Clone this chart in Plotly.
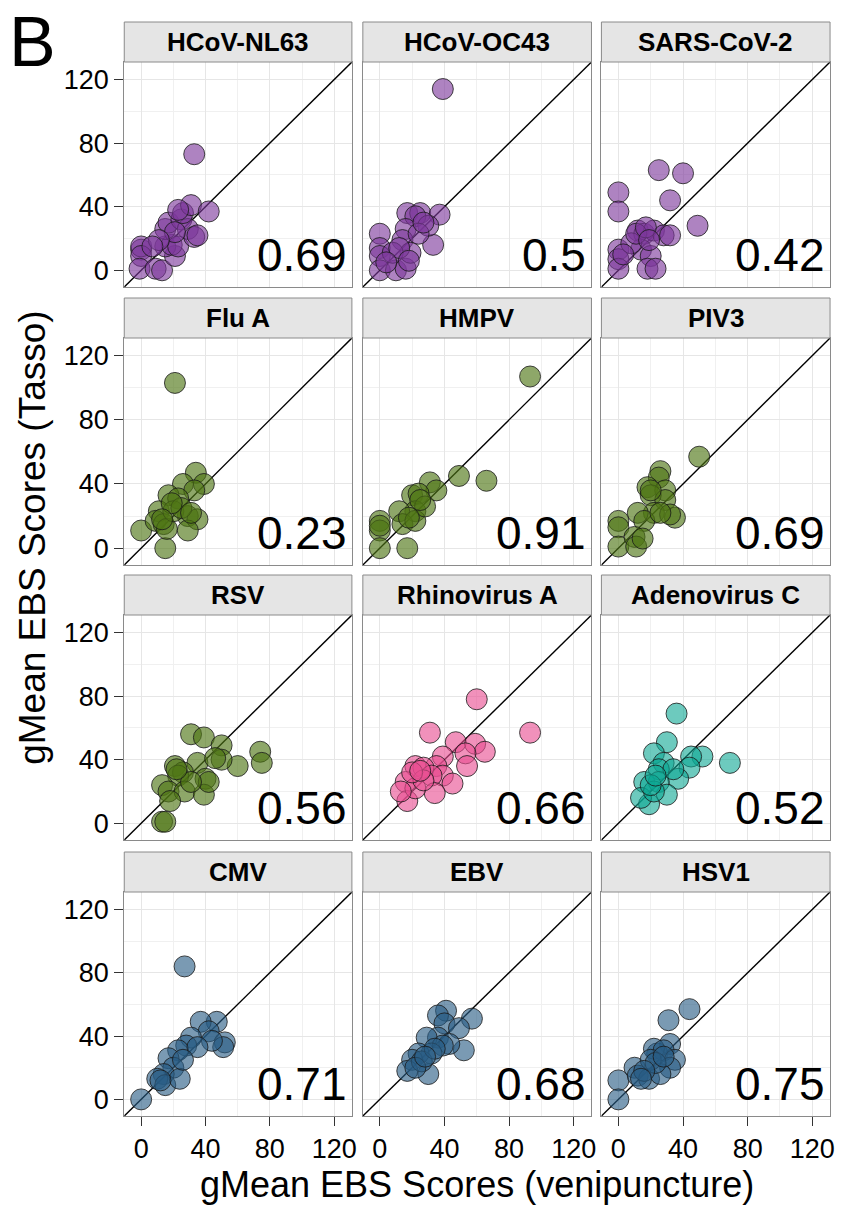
import plotly.graph_objects as go

# ---- data: gMean EBS scores, venipuncture (x) vs Tasso (y) ----
panel_names = ["HCoV-NL63", "HCoV-OC43", "SARS-CoV-2",
               "Flu A", "HMPV", "PIV3",
               "RSV", "Rhinovirus A", "Adenovirus C",
               "CMV", "EBV", "HSV1"]
corr_labels = ["0.69", "0.5", "0.42",
               "0.23", "0.91", "0.69",
               "0.56", "0.66", "0.52",
               "0.71", "0.68", "0.75"]

nl63_x = [0, 0, 0, -1, 9, 13, 21, 15, 19, 23, 15, 17, 25, 29, 33, 35, 21, 11, 7, 26, 31, 42, 23, 33]
nl63_y = [13, 15, 9, 1, 1, 0, 9, 15, 16, 15, 26, 30, 32, 26, 21, 22, 24, 19, 15, 36, 41, 37, 38, 73]

oc43_x = [39, 0, 0, 0, 0, 10, 16, 17, 25, 22, 37, 33, 30, 16, 14, 19, 8, 24, 27, 12, 4, 18]
oc43_y = [114, 23, 14, 9, 0, 0, 1, 36, 36, 34, 35, 16, 28, 26, 19, 11, 11, 23, 30, 14, 5, 6]

sars2_x = [25, 40, 32, 49, 0, 0, 0, 0, 0, 12, 16, 22, 28, 32, 14, 20, 18, 23, 8, 11, 17, 19, 3]
sars2_y = [63, 61, 44, 28, 49, 37, 13, 7, 1, 25, 23, 25, 22, 22, 13, 9, 1, 1, 17, 23, 27, 19, 10]

flua_x = [21, 0, 15, 34, 39, 26, 33, 17, 23, 11, 9, 14, 16, 29, 35, 29, 20, 25, 19, 13, 31]
flua_y = [103, 11, 0, 47, 40, 40, 36, 33, 31, 23, 17, 15, 12, 20, 18, 11, 23, 25, 28, 18, 22]

hmpv_x = [93, 49, 66, 31, 35, 20, 24, 22, 12, 14, 22, 0, 0, 0, 17, 28, 18, 25, 0]
hmpv_y = [107, 45, 42, 41, 36, 33, 34, 23, 23, 15, 17, 17, 11, 0, 0, 26, 19, 30, 14]

piv3_x = [50, 26, 25, 18, 29, 20, 29, 22, 12, 35, 16, 0, 0, 0, 10, 11, 32, 26, 20, 15]
piv3_y = [57, 48, 44, 38, 36, 33, 30, 22, 22, 19, 17, 17, 13, 1, 7, 1, 21, 22, 36, 6]

rsv_x = [31, 39, 50, 74, 75, 60, 50, 35, 21, 26, 40, 23, 13, 17, 27, 39, 18, 13, 15, 42, 31, 46, 22]
rsv_y = [56, 54, 49, 45, 38, 36, 40, 38, 36, 32, 28, 30, 24, 20, 20, 18, 14, 1, 1, 26, 26, 41, 34]

rhino_x = [60, 93, 31, 47, 59, 65, 53, 54, 39, 35, 22, 27, 39, 45, 32, 16, 17, 34, 22, 27, 20, 13, 25]
rhino_y = [78, 57, 57, 51, 50, 45, 44, 36, 42, 36, 36, 35, 30, 25, 30, 26, 14, 19, 22, 27, 32, 20, 33]

adeno_x = [36, 69, 30, 52, 45, 44, 37, 22, 28, 25, 16, 25, 30, 19, 14, 22, 34, 20, 23]
adeno_y = [69, 38, 51, 42, 42, 35, 28, 44, 38, 34, 26, 26, 18, 12, 16, 20, 34, 24, 30]

cmv_x = [0, 27, 47, 37, 42, 52, 51, 31, 28, 23, 17, 20, 14, 10, 15, 24, 44, 35, 26, 12]
cmv_y = [0, 84, 49, 49, 43, 36, 33, 39, 34, 31, 26, 20, 16, 13, 9, 13, 37, 33, 25, 12]

ebv_x = [41, 57, 36, 40, 49, 52, 36, 29, 43, 39, 32, 24, 20, 17, 30, 26, 22, 34, 28]
ebv_y = [56, 51, 53, 48, 45, 31, 39, 39, 35, 34, 29, 29, 25, 18, 16, 24, 20, 32, 27]

hsv1_x = [44, 31, 32, 0, 0, 10, 12, 19, 24, 22, 28, 35, 32, 26, 20, 23, 16, 28, 14]
hsv1_y = [57, 50, 35, 12, 0, 20, 15, 13, 29, 32, 31, 25, 20, 16, 25, 23, 18, 27, 13]

panel_x = [nl63_x, oc43_x, sars2_x, flua_x, hmpv_x, piv3_x,
           rsv_x, rhino_x, adeno_x, cmv_x, ebv_x, hsv1_x]
panel_y = [nl63_y, oc43_y, sars2_y, flua_y, hmpv_y, piv3_y,
           rsv_y, rhino_y, adeno_y, cmv_y, ebv_y, hsv1_y]

axis_ticks = [0, 40, 80, 120]

# ---- styling ----
W, H = 845, 1205
FONT = "Liberation Sans, Arial, Helvetica, sans-serif"
PURPLE = "rgba(125,55,155,0.62)"
GREEN = "rgba(78,118,20,0.64)"
PINK = "rgba(232,78,146,0.62)"
TEAL = "rgba(12,166,146,0.60)"
BLUE = "rgba(40,92,132,0.62)"
panel_fill = [PURPLE, PURPLE, PURPLE, GREEN, GREEN, GREEN,
              GREEN, PINK, TEAL, BLUE, BLUE, BLUE]

col_px = [(125, 354), (365, 595), (605, 835)]
row_px = [(62, 287), (338, 565), (615, 840), (892, 1116)]
STRIP_H = 40
AX_RANGE = [-10.5, 131]
BORDER = "#8a8a8a"


def px_x(p):
    return p / W


def px_y(p):
    return 1 - p / H


fig = go.Figure()
shapes = []
annotations = []

for i, name in enumerate(panel_names):
    r, c = divmod(i, 3)
    k = "" if i == 0 else str(i + 1)
    x0, x1 = col_px[c]
    y0, y1 = row_px[r]
    bottom_row = r == 3
    left_col = c == 0

    fig.add_trace(go.Scatter(
        x=AX_RANGE, y=AX_RANGE, mode="lines",
        line=dict(color="black", width=1.4),
        xaxis="x" + k, yaxis="y" + k, hoverinfo="skip", showlegend=False))
    fig.add_trace(go.Scatter(
        x=panel_x[i], y=panel_y[i], mode="markers",
        marker=dict(size=21, color=panel_fill[i],
                    line=dict(color="rgba(25,25,25,0.8)", width=1)),
        xaxis="x" + k, yaxis="y" + k, showlegend=False))

    common = dict(range=AX_RANGE, tickvals=axis_ticks, showgrid=True,
                  gridcolor="#e6e6e6", gridwidth=1, zeroline=False,
                  showline=True, mirror=True, linecolor=BORDER, linewidth=1,
                  minor=dict(tickmode="linear", tick0=0, dtick=20, showgrid=True,
                             gridcolor="#f0f0f0", gridwidth=1, ticks=""),
                  tickfont=dict(family=FONT, size=27, color="black"),
                  ticklen=9, tickcolor="#333333", tickwidth=1, fixedrange=True)
    fig.update_layout({
        "xaxis" + k: dict(common, domain=[px_x(x0), px_x(x1)], anchor="y" + k,
                          showticklabels=bottom_row,
                          ticks="outside" if bottom_row else ""),
        "yaxis" + k: dict(common, domain=[px_y(y1), px_y(y0)], anchor="x" + k,
                          showticklabels=left_col,
                          ticks="outside" if left_col else ""),
    })

    # facet strip
    shapes.append(dict(type="rect", xref="paper", yref="paper",
                       x0=px_x(x0), x1=px_x(x1), y0=px_y(y0), y1=px_y(y0 - STRIP_H),
                       fillcolor="#e5e5e5", line=dict(color=BORDER, width=1),
                       layer="above"))
    annotations.append(dict(text="<b>" + name + "</b>", xref="paper", yref="paper",
                            x=px_x((x0 + x1) / 2), y=px_y(y0 - STRIP_H / 2),
                            xanchor="center", yanchor="middle", showarrow=False,
                            font=dict(family=FONT, size=26, color="black")))
    # correlation value
    annotations.append(dict(text=corr_labels[i], xref="paper", yref="paper",
                            x=px_x(x1 - 3), y=px_y(y1 - 32),
                            xanchor="right", yanchor="middle", showarrow=False,
                            font=dict(family=FONT, size=46, color="black")))

# axis titles and panel letter
annotations.append(dict(text="gMean EBS Scores (venipuncture)", xref="paper", yref="paper",
                        x=px_x(480), y=px_y(1184), xanchor="center", yanchor="middle",
                        showarrow=False, font=dict(family=FONT, size=36, color="black")))
annotations.append(dict(text="gMean EBS Scores (Tasso)", xref="paper", yref="paper",
                        x=px_x(32), y=px_y(538), xanchor="center", yanchor="middle",
                        textangle=-90, showarrow=False,
                        font=dict(family=FONT, size=37, color="black")))
annotations.append(dict(text="B", xref="paper", yref="paper",
                        x=px_x(7), y=px_y(42), xanchor="left", yanchor="middle",
                        showarrow=False, font=dict(family=FONT, size=70, color="black")))

fig.update_layout(width=W, height=H, margin=dict(l=0, r=0, t=0, b=0),
                  paper_bgcolor="white", plot_bgcolor="white",
                  shapes=shapes, annotations=annotations, showlegend=False)

fig.write_html("out.html")
